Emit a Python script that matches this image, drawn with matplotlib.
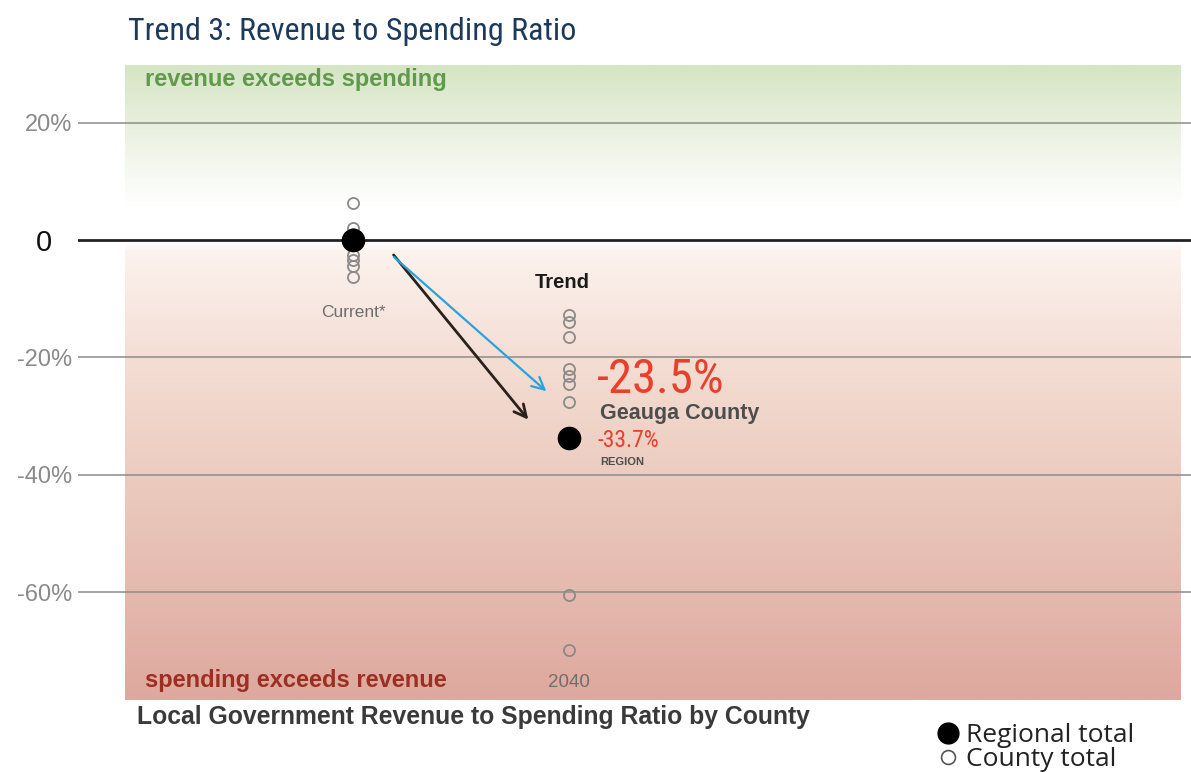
import matplotlib
matplotlib.use("Agg")
import matplotlib.pyplot as plt
import matplotlib.transforms as mtransforms
from matplotlib import font_manager as fm
from matplotlib.font_manager import FontProperties
import numpy as np
from matplotlib.colors import LinearSegmentedColormap
from matplotlib.lines import Line2D

# data (percent)
categories = ["Current*", "2040"]
county_current = [6.3, 2.0, 1.0, -2.5, -3.5, -4.5, -6.3]
county_2040 = [-12.8, -14.0, -16.6, -22.0, -23.2, -24.6, -27.7, -60.5, -69.8]
regional = [0.0, -33.7]
geauga_2040 = -23.5
ytick_vals = [20, 0, -20, -40, -60]
ytick_labels = ["20%", "0", "-20%", "-40%", "-60%"]

sans = ["Liberation Sans", "DejaVu Sans"]


def find_narrow():
    # look for a condensed face among the installed fonts
    wanted = ["Roboto Condensed", "Liberation Sans Narrow", "DejaVu Sans Condensed",
              "Open Sans Condensed", "Noto Sans Condensed", "Noto Sans ExtraCondensed"]
    fonts = fm.fontManager.ttflist
    for name in wanted:
        for f in fonts:
            if f.name == name and f.style == "normal":
                return f.fname, True
    for f in fonts:
        st = f.stretch
        narrow_st = st in ("condensed", "semi-condensed", "extra-condensed", "ultra-condensed") \
            or (isinstance(st, int) and st < 500)
        if narrow_st and f.style == "normal" and "Mono" not in f.name:
            return f.fname, True
    return None, False


narrow_file, have_narrow = find_narrow()


def narrow_fp(size):
    if have_narrow:
        return FontProperties(fname=narrow_file, size=size)
    return FontProperties(family=sans, size=size * 0.8)


fig = plt.figure(figsize=(11.91, 7.72), dpi=100)
ax = fig.add_axes([78 / 1191, 1 - 700 / 772, 1 - 78 / 1191, (700 - 65) / 772])
ymin, ymax = -78.4, 29.8
xmin, xmax = -1.273, 3.88
ax.set_xlim(xmin, xmax)
ax.set_ylim(ymin, ymax)

# background gradient: green on top, white near zero, red at the bottom
stops = [
    (ymin, (222, 168, 158)),
    (-40, (236, 204, 192)),
    (-20, (244, 222, 212)),
    (-2, (252, 242, 238)),
    (0, (255, 255, 255)),
    (6, (255, 255, 255)),
    (18, (236, 242, 226)),
    (ymax, (214, 229, 196)),
]
span = ymax - ymin
cmap = LinearSegmentedColormap.from_list(
    "bg", [((v - ymin) / span, tuple(c / 255 for c in col)) for v, col in stops])
grad = np.linspace(0, 1, 400).reshape(-1, 1)
ax.imshow(grad, cmap=cmap, origin="lower", aspect="auto",
          extent=[-1.056, 3.83, ymin, ymax], zorder=0)

# grid lines
for v in ytick_vals:
    if v == 0:
        ax.axhline(0, color="#222222", lw=2, zorder=1)
    else:
        ax.axhline(v, color="#8c8c8c", lw=1.1, zorder=1)

for s in ax.spines.values():
    s.set_visible(False)
ax.set_xticks([])
ax.set_yticks(ytick_vals)
ax.set_yticklabels(ytick_labels)
ax.tick_params(axis="y", length=0, pad=4, labelsize=17, labelcolor="#8a8a8a")
shift = mtransforms.ScaledTranslation(-20 / 100, 0, fig.dpi_scale_trans)
for lab in ax.get_yticklabels():
    lab.set_fontfamily(sans)
    if lab.get_text() == "0":
        lab.set_fontsize(21)
        lab.set_color("#111111")
        lab.set_transform(lab.get_transform() + shift)

# county points
ax.plot([0] * len(county_current), county_current, "o", ms=8, mfc="none",
        mec="#8a8a8a", mew=1.3, zorder=3)
ax.plot([1] * len(county_2040), county_2040, "o", ms=8, mfc="none",
        mec="#8a8a8a", mew=1.3, zorder=3)
# regional points
ax.plot([0, 1], regional, "o", ms=16, color="black", zorder=4)

# arrows
ax.annotate("", xy=(0.82, -31.0), xytext=(0.18, -2.2),
            arrowprops=dict(arrowstyle="->", color="#2a211c", lw=2,
                            mutation_scale=22), zorder=2)
ax.annotate("", xy=(0.905, -26.1), xytext=(0.18, -2.6),
            arrowprops=dict(arrowstyle="->", color="#2aa3dc", lw=1.6,
                            mutation_scale=22), zorder=2)

# labels
ax.text(0, -12.4, categories[0], ha="center", va="center", fontsize=12.5,
        color="#6e6e6e", family=sans)
ax.text(0.97, -7.3, "Trend", ha="center", va="center", fontsize=14.5,
        fontweight="bold", color="#1a1a1a", family=sans)
ax.text(1, -75.5, categories[1], ha="center", va="center", fontsize=13.5,
        color="#6e6e6e", family=sans)
ax.text(-0.963, 27.3, "revenue exceeds spending", ha="left", va="center",
        fontsize=17, fontweight="bold", color="#5f9a4c", family=sans)
ax.text(-0.963, -75.0, "spending exceeds revenue", ha="left", va="center",
        fontsize=17, fontweight="bold", color="#9c2f22", family=sans)

ax.text(1.13, geauga_2040 - 0.3, f"{geauga_2040}%", ha="left", va="center",
        color="#e8402a", fontproperties=narrow_fp(35))
ax.text(1.145, -29.6, "Geauga County", ha="left", va="center", fontsize=15.5,
        fontweight="bold", color="#4d4d4d", family=sans)
ax.text(1.13, regional[1] - 0.4, f"{regional[1]}%", ha="left", va="center",
        color="#e8402a", fontproperties=narrow_fp(17))
ax.text(1.145, -37.8, "REGION", ha="left", va="center", fontsize=8,
        fontweight="bold", color="#4d4d4d", family=sans)

# title and caption
fig.text(128 / 1191, 1 - 31 / 772, "Trend 3: Revenue to Spending Ratio",
         ha="left", va="center", color="#1c3a5e", fontproperties=narrow_fp(23))
fig.text(137 / 1191, 1 - 717 / 772,
         "Local Government Revenue to Spending Ratio by County",
         ha="left", va="center", fontsize=17.8, fontweight="bold",
         color="#3a3a3a", family=sans)

# legend
handles = [
    Line2D([], [], marker="o", ls="none", ms=15, color="black"),
    Line2D([], [], marker="o", ls="none", ms=10, mfc="none", mec="#555555", mew=1.2),
]
leg = fig.legend(handles, ["Regional total", "County total"],
                 loc="upper left", bbox_to_anchor=(919 / 1191, 1 - 710 / 772),
                 frameon=False, handletextpad=0.1, labelspacing=-0.05,
                 borderpad=0, handlelength=1.2,
                 prop={"family": ["Open Sans", "DejaVu Sans"], "size": 19})
for t in leg.get_texts():
    t.set_color("#222222")

fig.savefig("out.png", dpi=100)
